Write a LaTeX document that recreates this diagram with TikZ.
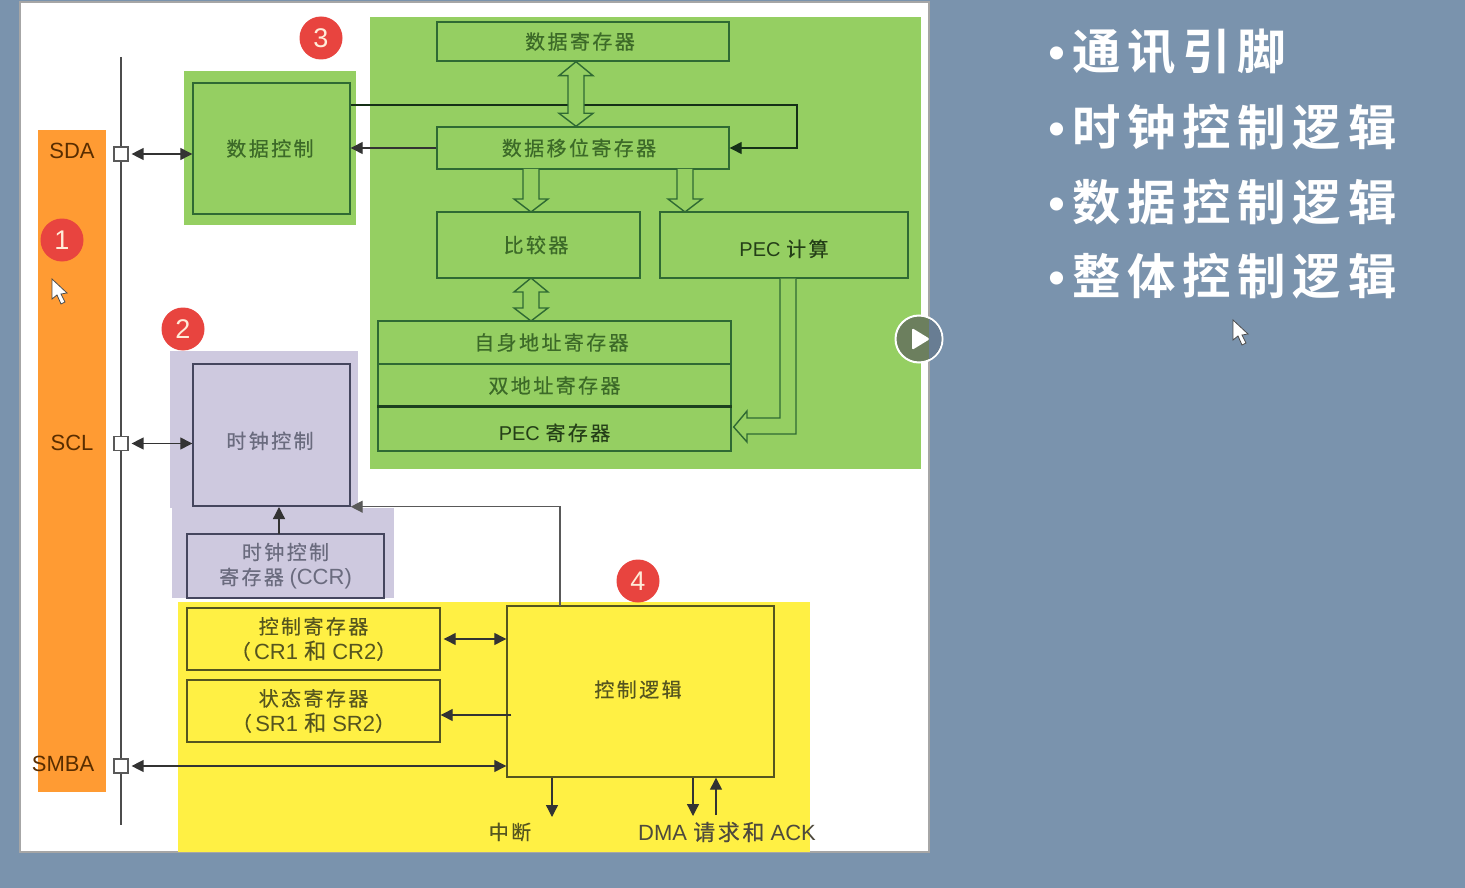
\documentclass[tikz,border=0pt]{standalone}
\usepackage{fontspec}
\usepackage{xcolor}
\usetikzlibrary{arrows.meta,calc}
\setmainfont{Liberation Sans}
\newfontfamily\cjk[LetterSpace=12,FakeBold=0.4]{Noto Sans CJK SC}
\newfontfamily\cjkhead[LetterSpace=14]{Noto Sans CJK SC Bold}
\definecolor{slide}{HTML}{7A93AD}
\definecolor{orangebar}{HTML}{FF9B33}
\definecolor{greenbg}{HTML}{95CF62}
\definecolor{lavbg}{HTML}{CEC9DF}
\definecolor{yellowbg}{HTML}{FFF044}
\definecolor{badgered}{HTML}{E8443F}
\definecolor{greenink}{HTML}{2F6A33}
\definecolor{greentext}{HTML}{3C6A28}
\definecolor{lavink}{HTML}{45465E}
\definecolor{yellowink}{HTML}{55551F}
\definecolor{playolive}{HTML}{6C7F5E}
\tikzset{
	box/.style={draw, line width=1.4pt, inner sep=0pt, align=center, font=\fontsize{20}{25}\selectfont},
	gbox/.style={box, draw=greenink, text=greentext},
	lbox/.style={box, draw=lavink, text=lavink!80},
	ybox/.style={box, draw=yellowink, text=yellowink},
	pin/.style={draw=black!65, fill=white, line width=1.2pt, minimum size=14pt, inner sep=0pt},
	badge/.style={circle, fill=badgered, text=orange!15, minimum size=43pt, inner sep=0pt, font=\fontsize{27}{27}\selectfont},
	siglabel/.style={text=black!65!orange, font=\fontsize{22}{22}\selectfont, inner sep=0pt},
	topic/.style={anchor=west, text=white, inner sep=0pt, font=\fontsize{48.4}{49}\selectfont},
	wire/.style={line width=1.3pt, draw=black!80, >={Triangle[length=12pt,width=12pt]}},
	busline/.style={line width=1.4pt, draw=greenink, fill=greenbg},
	cursorptr/.style={fill=white, draw=black!70, line width=0.8pt}
}
% hollow bus arrows, #1 upper end and #2 lower end
\newcommand{\dblbus}[2]{
	\draw[busline] (#1) -- ($(#1)+(17,14)$) -- ($(#1)+(8,14)$) -- ($(#2)+(8,-13)$) -- ($(#2)+(17,-13)$) -- (#2)
		-- ($(#2)+(-17,-13)$) -- ($(#2)+(-8,-13)$) -- ($(#1)+(-8,14)$) -- ($(#1)+(-17,14)$) -- cycle;
}
\newcommand{\onebus}[2]{
	\draw[busline] (#1)+(-8,0) -- ($(#2)+(-8,-13)$) -- ($(#2)+(-17,-13)$) -- (#2)
		-- ($(#2)+(17,-13)$) -- ($(#2)+(8,-13)$) -- ($(#1)+(8,0)$);
}
\begin{document}
\begin{tikzpicture}[x=1pt,y=-1pt]
\fill[slide] (0,0) rectangle (1465,888);
\useasboundingbox (0,0) rectangle (1465,888);
\draw[fill=white, draw=black!35, line width=1.6pt] (20,2) rectangle (929,852);

% coloured regions
\fill[orangebar] (38,130) rectangle (106,792);
\fill[greenbg] (370,17) rectangle (921,469);
\fill[greenbg] (184,71) rectangle (356,225);
\fill[lavbg] (170,351) rectangle (358,508);
\fill[lavbg] (172,508) rectangle (394,598);
\fill[yellowbg] (178,602) rectangle (810,852);

% bus
\coordinate (bustop) at (121,57);
\coordinate (busend) at (121,825);
\draw[line width=2.2pt, black!70] (bustop) -- (busend);

\node[pin] (sdapin) at (121,154) {};
\node[pin] (sclpin) at (121,443.5) {};
\node[pin] (smbapin) at (121,766) {};
\node[siglabel] (sda) at (72,151) {SDA};
\node[siglabel] (scl) at (72,443) {SCL};
\node[siglabel] (smba) at (63,764) {SMBA};

% data part
\node[gbox, minimum width=292pt, minimum height=39pt] (datareg) at (583,41.5) {\cjk 数据寄存器\hspace*{6pt}};
\node[gbox, minimum width=292pt, minimum height=42pt] (shiftreg) at (583,148) {\cjk 数据移位寄存器\hspace*{8pt}};
\node[gbox, minimum width=203pt, minimum height=66pt] (cmp) at (538.5,245) {\cjk 比较器\hspace*{5pt}};
\node[gbox, minimum width=248pt, minimum height=66pt, text=black!40!greentext] (peccalc) at (784,245) {\raisebox{-3pt}[\height][0pt]{PEC {\cjk 计算}}};
\node[gbox, minimum width=353pt, minimum height=43pt] (ownreg) at (554.5,342.5) {\cjk 自身地址寄存器\hspace*{6pt}};
\node[gbox, minimum width=353pt, minimum height=43pt] (dualreg) at (554.5,385.5) {\cjk 双地址寄存器};
\node[gbox, minimum width=353pt, minimum height=44pt, text=black!40!greentext] (pecreg) at (554.5,429) {\raisebox{-3pt}[\height][0pt]{PEC {\cjk 寄存器}}};
\draw[line width=2.4pt, draw=black!40!greenink] (pecreg.north west) -- (pecreg.north east);
\node[gbox, minimum width=157pt, minimum height=131pt] (datactl) at (271.5,148.5) {\cjk 数据控制\hspace*{3pt}};

% clock part
\node[lbox, minimum width=157pt, minimum height=142pt] (clkctl) at (271.5,435) {\raisebox{-5pt}[\height][0pt]{\cjk 时钟控制}\hspace*{3pt}};
\node[lbox, minimum width=197pt, minimum height=64pt] (ccr) at (285.5,566) {{\cjk 时钟控制}\\{\cjk 寄存器} {\fontsize{22}{25}\selectfont (CCR)}};

% control part
\node[ybox, minimum width=253pt, minimum height=62pt] (crreg) at (313.5,639) {{\cjk 控制寄存器}\\{\cjk （}\,{\fontsize{22}{25}\selectfont CR1 {\cjk 和} CR2}{\cjk ）}};
\node[ybox, minimum width=253pt, minimum height=62pt] (srreg) at (313.5,711) {{\cjk 状态寄存器}\\{\cjk （}\,{\fontsize{22}{25}\selectfont SR1 {\cjk 和} SR2}{\cjk ）}};
\node[ybox, minimum width=267pt, minimum height=171pt] (ctlogic) at (640.5,691.5) {\raisebox{2pt}[\height][\depth]{\cjk 控制逻辑}\hspace*{5pt}};
\node[text=yellowink, inner sep=0pt, font=\fontsize{20}{20}\selectfont] (irq) at (510,832) {\cjk 中断};
\node[text=black!80!yellow, inner sep=0pt, font=\fontsize{22}{22}\selectfont] (dma) at (727,832) {DMA {\cjk 请求和} ACK};

% wires
\foreach \from/\to in {sdapin/datactl,sclpin/clkctl,smbapin/ctlogic,crreg/ctlogic}
{
	\draw[wire, <->, shorten <=3pt] (\from.east) -- (\from.east -| \to.west);
}
\draw[wire, ->] (ctlogic.west |- srreg.east) ++(5,4) -- ([yshift=-4pt]srreg.east);
\draw[wire, ->] (shiftreg.west) -- (shiftreg.west -| datactl.east);
\draw[wire, ->, draw=black!55!greenink] (datactl.east |- 0,105) -- (797,105) |- (shiftreg.east);
\draw[wire, ->, draw=black!65] (560,606) |- (clkctl.south east);
\draw[wire, ->] (279,534) -- (279,507);
\coordinate (irqend) at (552,817);
\coordinate (dmadown) at (693,816);
\coordinate (dmaup) at (716,815);
\draw[wire, ->] (ctlogic.south -| irqend) -- (irqend);
\draw[wire, ->] (ctlogic.south -| dmadown) -- (dmadown);
\draw[wire, ->] (dmaup) -- (ctlogic.south -| dmaup);

% hollow buses
\coordinate (bus1a) at ([xshift=-7pt]datareg.south);
\coordinate (bus1b) at ([xshift=-7pt]shiftreg.north);
\coordinate (bus2a) at (531,278);
\coordinate (bus2b) at (531,321);
\coordinate (bus3a) at (531,169);
\coordinate (bus3b) at (531,212);
\coordinate (bus4a) at (685,169);
\coordinate (bus4b) at (685,212);
\dblbus{bus1a}{bus1b}
\dblbus{bus2a}{bus2b}
\onebus{bus3a}{bus3b}
\onebus{bus4a}{bus4b}
\coordinate (pecin) at ([xshift=2pt,yshift=2pt]pecreg.east);
\draw[busline] ($(peccalc.south)+(-4,0)$) |- (747,418) -- (747,411) -- (pecin) -- (747,442) -- (747,434) -| ($(peccalc.south)+(12,0)$);

% badges
\foreach \n/\x/\y in {1/62/240,2/183/329,3/321/38,4/638/581}
{
	\node[badge] (badge\n) at (\x,\y) {\n};
}

% player button
\node[circle, draw=white, fill=playolive, line width=2pt, minimum size=47pt, inner sep=0pt] (playbtn) at (919,339) {};
\begin{scope}
\clip (929,310) rectangle (946,368);
\fill[black!15!slide] (playbtn.center) circle (22.5);
\end{scope}
\fill[white, rounded corners=1.5pt] (912,328) -- (912,350) -- (930,339) -- cycle;

% pointers
\foreach \x/\y in {52/279,1233/320}
{
	\draw[cursorptr] (\x,\y) -- ++(0,20) -- ++(5,-4) -- ++(4,9) -- ++(4,-2) -- ++(-4,-8) -- ++(6,-1) -- cycle;
}

% topics
\foreach \y/\txt in {52/通讯引脚,127/时钟控制逻辑,202/数据控制逻辑,276/整体控制逻辑}
{
	\node[topic] (topic\y) at (1048,\y) {\textbullet\hspace{7pt}{\cjkhead \txt}};
}
\end{tikzpicture}
\end{document}
